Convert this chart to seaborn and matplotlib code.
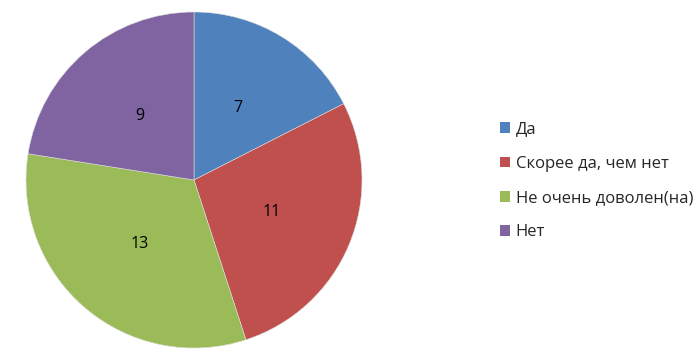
import matplotlib
matplotlib.use("Agg")
import matplotlib.pyplot as plt
import seaborn as sns
from matplotlib.patches import Patch

categories = ["Да", "Скорее да, чем нет", "Не очень доволен(на)", "Нет"]
values = [7, 11, 13, 9]
colors = ["#4F81BD", "#C0504D", "#9BBB59", "#8064A2"]

sns.set_theme(style="white")
plt.rcParams['font.family'] = ['Open Sans', 'DejaVu Sans']

fig = plt.figure(figsize=(7, 3.61), dpi=100)
ax = fig.add_axes([194/700 - 168/700, 1 - (180+168)/361, 336/700, 336/361])

total = sum(values)
wedges, texts, autotexts = ax.pie(
    values, colors=colors, startangle=90, counterclock=False,
    autopct=lambda p: f"{round(p*total/100):d}", pctdistance=0.5,
    wedgeprops=dict(edgecolor="#dddddd", linewidth=0.4),
    textprops=dict(fontsize=11.5, color="black"))
ax.set_xlim(-1, 1)
ax.set_ylim(-1, 1)
ax.set_aspect("equal")

handles = [Patch(facecolor=c, edgecolor="none") for c in colors]
fig.legend(handles, categories, loc="center left", bbox_to_anchor=(500/700, 1 - 181/361),
           frameon=False, fontsize=12, handlelength=0.6, handleheight=0.6,
           handletextpad=0.35, labelspacing=1.1, borderaxespad=0, borderpad=0)

fig.savefig("out.png", dpi=100, facecolor="white")
